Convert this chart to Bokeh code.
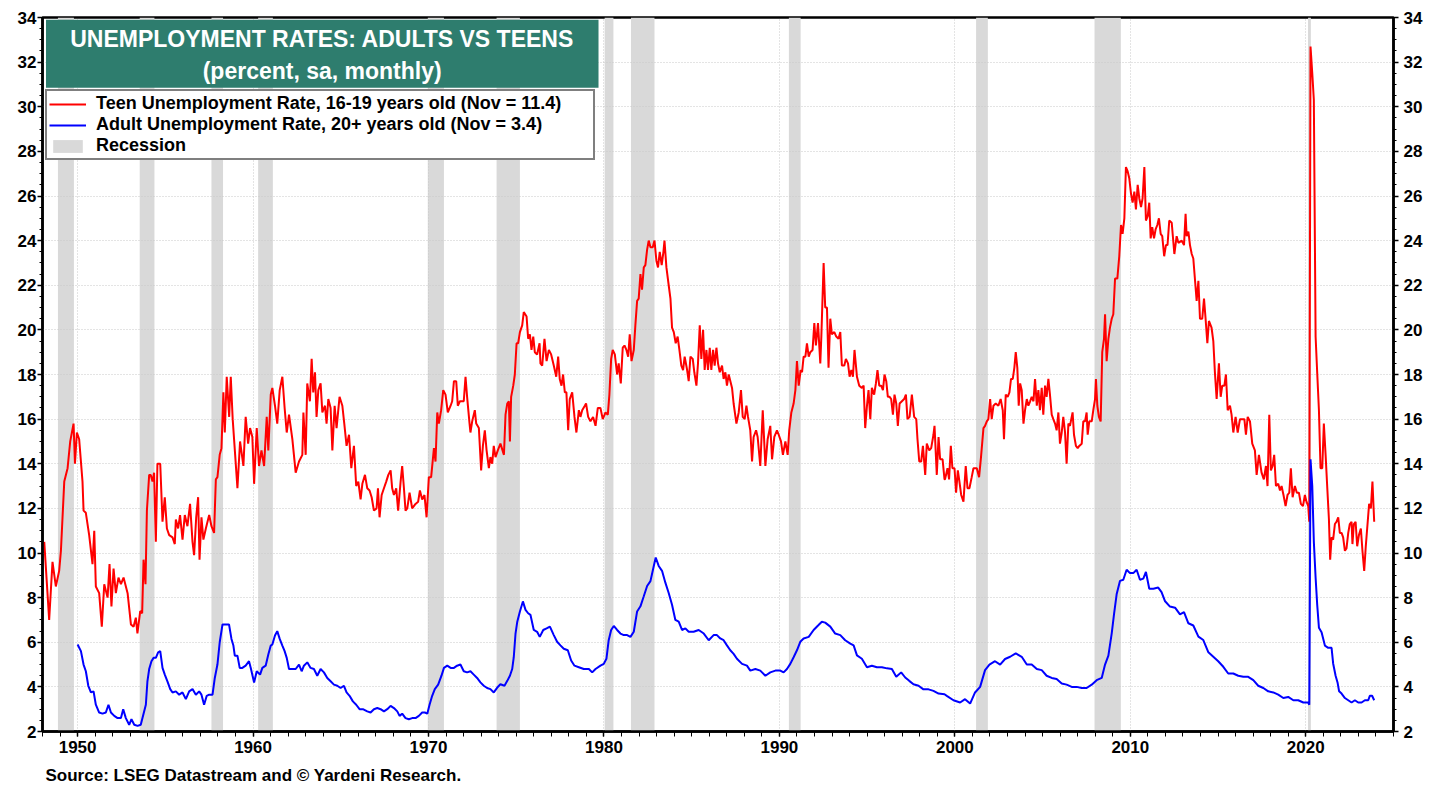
from bokeh.plotting import figure
from bokeh.models import (LinearAxis, FixedTicker, Legend, LegendItem, BoxAnnotation,
                          Label, Title, Range1d)
from bokeh.embed import file_html
from bokeh.resources import INLINE

FONT = "Liberation Sans"

# ---------------- data ----------------
title_line1 = "UNEMPLOYMENT RATES: ADULTS VS TEENS"
title_line2 = "(percent, sa, monthly)"
teen_label = "Teen Unemployment Rate, 16-19 years old (Nov = 11.4)"
adult_label = "Adult Unemployment Rate, 20+ years old (Nov = 3.4)"
source_text = "Source: LSEG Datastream and \u00a9 Yardeni Research."

year_ticks = [1950, 1960, 1970, 1980, 1990, 2000, 2010, 2020]
value_ticks = list(range(2, 35, 2))

rec_start = [1948.88, 1953.54, 1957.63, 1960.29, 1969.96, 1973.88, 1980.04, 1981.54, 1990.54, 2001.21, 2007.96, 2020.13]
rec_end = [1949.79, 1954.38, 1958.29, 1961.13, 1970.88, 1975.21, 1980.54, 1982.88, 1991.21, 2001.88, 2009.46, 2020.29]

teen_year_a = [
    1948.10, 1948.38, 1948.57, 1948.76, 1948.95, 1949.05, 1949.24, 1949.43, 1949.58, 1949.77,
    1949.85, 1949.96, 1950.09, 1950.28, 1950.34, 1950.47, 1950.66, 1950.85, 1950.95, 1951.04,
    1951.23, 1951.38, 1951.52, 1951.71, 1951.82, 1951.93, 1952.05, 1952.18, 1952.33, 1952.47,
    1952.62, 1952.85, 1953.04, 1953.19, 1953.32, 1953.41, 1953.57, 1953.68, 1953.76, 1953.87,
    1953.95, 1954.08, 1954.17, 1954.27, 1954.36, 1954.46, 1954.55, 1954.71, 1954.84, 1954.97,
    1955.09, 1955.22, 1955.41, 1955.54, 1955.60, 1955.73, 1955.84, 1955.98, 1956.11, 1956.26,
    1956.41, 1956.55, 1956.64, 1956.76, 1956.87, 1956.95, 1957.06, 1957.17, 1957.31, 1957.50,
    1957.63, 1957.78, 1957.88, 1957.97, 1958.10, 1958.20, 1958.31, 1958.39, 1958.50, 1958.64,
    1958.73, 1958.84, 1958.98, 1959.11, 1959.26, 1959.45, 1959.58, 1959.72, 1959.83, 1959.96,
    1960.06, 1960.21, 1960.34, 1960.48, 1960.63, 1960.78, 1960.87, 1961.01]
teen_rate_a = [
    10.5, 7.0, 9.6, 8.5, 9.2, 10.1, 13.2, 13.8, 15.0, 15.8,
    14.0, 15.4, 15.1, 13.2, 11.9, 11.8, 10.8, 9.5, 11.0, 8.5,
    8.2, 6.7, 8.6, 8.0, 9.5, 7.6, 9.3, 8.2, 8.9, 8.6,
    8.9, 8.2, 6.8, 6.7, 7.1, 6.4, 7.4, 7.3, 9.7, 8.6,
    11.9, 13.5, 13.5, 13.2, 13.6, 10.5, 14.0, 14.0, 11.4, 12.5,
    11.1, 10.8, 10.7, 10.4, 11.5, 11.1, 11.7, 10.6, 11.7, 11.2,
    12.2, 10.5, 9.9, 11.6, 12.5, 9.7, 11.6, 10.6, 11.1, 11.7,
    11.2, 10.9, 13.3, 13.4, 14.4, 14.7, 17.2, 15.4, 17.9, 16.1,
    17.9, 16.0, 14.4, 12.9, 15.0, 13.9, 16.1, 14.9, 15.6, 15.2,
    13.1, 15.6, 13.9, 14.6, 13.9, 16.1, 14.6, 17.1]

teen_year_b = [
    1961.10, 1961.25, 1961.38, 1961.52, 1961.67, 1961.80, 1961.92, 1962.05, 1962.24, 1962.43,
    1962.62, 1962.81, 1962.87, 1963.00, 1963.09, 1963.24, 1963.34, 1963.43, 1963.53, 1963.62,
    1963.72, 1963.85, 1963.95, 1964.10, 1964.19, 1964.29, 1964.42, 1964.52, 1964.65, 1964.76,
    1964.93, 1965.09, 1965.20, 1965.33, 1965.47, 1965.60, 1965.75, 1965.88, 1966.00, 1966.13,
    1966.23, 1966.38, 1966.51, 1966.64, 1966.76, 1966.89, 1967.04, 1967.12, 1967.21, 1967.33,
    1967.46, 1967.59, 1967.71, 1967.84, 1967.93, 1968.03, 1968.16, 1968.27, 1968.41, 1968.50,
    1968.60, 1968.69, 1968.79, 1968.92, 1969.07, 1969.26, 1969.41, 1969.51, 1969.64, 1969.77,
    1969.89, 1970.02, 1970.15, 1970.31, 1970.40, 1970.50, 1970.59, 1970.72, 1970.84, 1970.97,
    1971.10, 1971.26, 1971.35, 1971.45, 1971.58, 1971.67, 1971.79, 1972.01, 1972.11, 1972.20,
    1972.34, 1972.39, 1972.49, 1972.64, 1972.72, 1972.87, 1973.00, 1973.10, 1973.21, 1973.31,
    1973.44, 1973.53, 1973.63, 1973.72, 1973.82]
teen_rate_b = [
    17.4, 16.6, 15.8, 17.3, 17.9, 16.5, 15.4, 16.2, 15.1, 13.6,
    14.1, 14.4, 16.3, 14.4, 17.6, 16.8, 18.7, 17.2, 18.1, 16.1,
    17.3, 17.6, 16.3, 16.6, 15.8, 16.9, 16.5, 14.6, 16.6, 15.6,
    17.0, 16.6, 15.8, 14.8, 15.3, 13.8, 14.8, 13.0, 13.2, 12.4,
    13.1, 13.5, 12.9, 12.8, 12.5, 11.9, 12.0, 12.9, 11.6, 12.6,
    12.9, 13.2, 13.5, 13.7, 12.9, 12.6, 12.9, 11.9, 13.2, 13.9,
    12.9, 11.9, 12.0, 12.7, 12.0, 12.2, 12.3, 12.8, 12.4, 12.6,
    11.6, 13.4, 13.4, 14.7, 14.1, 16.3, 15.8, 16.4, 17.3, 17.1,
    16.3, 16.6, 16.8, 17.7, 17.7, 16.6, 16.8, 16.8, 17.9, 17.0,
    15.8, 15.4, 15.9, 16.4, 15.8, 15.6, 13.7, 14.8, 15.5, 14.6,
    13.8, 14.3, 14.0, 14.8, 14.3]

teen_year_c = [
    1973.95, 1974.10, 1974.30, 1974.39, 1974.49, 1974.58, 1974.64, 1974.71, 1974.83, 1974.92,
    1975.02, 1975.11, 1975.21, 1975.34, 1975.43, 1975.59, 1975.68, 1975.78, 1975.87, 1975.97,
    1976.06, 1976.19, 1976.33, 1976.38, 1976.48, 1976.61, 1976.73, 1976.86, 1976.99, 1977.14,
    1977.28, 1977.39, 1977.48, 1977.58, 1977.67, 1977.77, 1977.86, 1977.96, 1978.05, 1978.19,
    1978.32, 1978.43, 1978.57, 1978.66, 1978.76, 1978.91, 1978.98, 1979.10, 1979.23, 1979.38,
    1979.52, 1979.65, 1979.80, 1979.93, 1980.09, 1980.22, 1980.31, 1980.41, 1980.50, 1980.62,
    1980.75, 1980.84, 1980.96, 1981.07, 1981.17, 1981.28, 1981.38, 1981.47, 1981.57, 1981.70,
    1981.79, 1981.89, 1981.98, 1982.08, 1982.17, 1982.27, 1982.36, 1982.46, 1982.55, 1982.65,
    1982.78, 1982.88, 1982.99, 1983.08, 1983.18, 1983.29, 1983.39, 1983.45, 1983.56, 1983.69,
    1983.79, 1983.88, 1983.98, 1984.09, 1984.20, 1984.30, 1984.41, 1984.51, 1984.60, 1984.74,
    1984.83, 1984.93, 1985.06, 1985.15, 1985.27, 1985.36, 1985.46, 1985.55, 1985.65, 1985.74,
    1985.84, 1985.93, 1986.03, 1986.12, 1986.22, 1986.31, 1986.41, 1986.50, 1986.60]
teen_rate_c = [
    14.6, 14.9, 14.4, 16.2, 16.7, 16.8, 15.0, 17.0, 17.5, 18.0,
    19.4, 19.4, 19.9, 20.2, 20.8, 20.6, 19.6, 19.8, 19.1, 19.7,
    19.0, 18.9, 19.4, 18.5, 18.4, 19.6, 18.6, 19.1, 18.9, 18.4,
    17.9, 18.8, 17.8, 17.5, 18.0, 17.2, 17.2, 15.5, 16.9, 17.2,
    16.1, 15.4, 16.4, 16.1, 16.4, 16.6, 16.7, 16.1, 15.9, 16.1,
    15.7, 16.5, 16.5, 16.0, 16.3, 16.2, 17.1, 18.7, 19.1, 18.9,
    18.0, 18.5, 17.6, 19.2, 19.3, 19.1, 18.8, 19.8, 18.6, 19.1,
    20.2, 21.3, 21.4, 22.5, 21.8, 22.8, 22.9, 23.6, 24.0, 23.7,
    23.7, 24.0, 23.1, 22.8, 23.5, 22.9, 23.5, 24.0, 22.8, 22.0,
    21.4, 20.1, 19.9, 19.4, 19.7, 19.1, 18.4, 18.2, 18.8, 18.2,
    17.7, 18.8, 18.7, 18.1, 17.5, 18.5, 20.2, 18.7, 20.0, 18.2,
    19.1, 18.2, 19.2, 18.2, 19.1, 18.4, 19.2, 18.5, 18.1]

teen_year_d = [
    1986.73, 1986.82, 1986.92, 1987.01, 1987.11, 1987.30, 1987.39, 1987.55, 1987.68, 1987.81,
    1987.91, 1988.02, 1988.12, 1988.21, 1988.34, 1988.44, 1988.53, 1988.67, 1988.76, 1988.91,
    1989.05, 1989.20, 1989.33, 1989.48, 1989.58, 1989.71, 1989.86, 1989.96, 1990.09, 1990.20,
    1990.34, 1990.47, 1990.56, 1990.68, 1990.81, 1990.91, 1991.00, 1991.10, 1991.21, 1991.29,
    1991.38, 1991.48, 1991.57, 1991.67, 1991.76, 1991.89, 1991.99, 1992.08, 1992.20, 1992.33,
    1992.39, 1992.52, 1992.61, 1992.71, 1992.80, 1992.90, 1992.99, 1993.13, 1993.24, 1993.37,
    1993.47, 1993.56, 1993.70, 1993.79, 1993.91, 1994.00, 1994.10, 1994.19, 1994.28, 1994.42,
    1994.55, 1994.70, 1994.80, 1994.89, 1994.99, 1995.08, 1995.18, 1995.27, 1995.40, 1995.50,
    1995.59, 1995.69, 1995.80, 1995.90, 1995.99, 1996.09, 1996.18, 1996.28, 1996.37, 1996.47,
    1996.56, 1996.66, 1996.75, 1996.85, 1996.98, 1997.11, 1997.21, 1997.30, 1997.42, 1997.55,
    1997.68, 1997.80, 1997.87, 1997.97, 1998.08, 1998.18, 1998.31, 1998.40, 1998.54, 1998.65,
    1998.78, 1998.84, 1998.97, 1999.07, 1999.16, 1999.30, 1999.41]
teen_rate_d = [
    18.4, 17.8, 18.1, 17.5, 18.0, 17.4, 16.7, 15.8, 16.3, 17.3,
    16.1, 16.0, 16.6, 16.1, 15.5, 14.1, 15.2, 15.5, 15.2, 13.9,
    16.4, 13.9, 15.1, 15.7, 14.2, 15.2, 15.5, 15.3, 15.0, 14.4,
    15.0, 14.4, 15.5, 16.3, 16.7, 17.3, 18.6, 17.5, 18.2, 18.1,
    18.8, 18.8, 19.4, 18.8, 19.0, 19.1, 20.3, 19.3, 20.3, 18.5,
    19.7, 23.0, 21.0, 21.0, 18.3, 20.5, 19.8, 19.9, 19.7, 19.6,
    19.9, 18.4, 18.4, 18.7, 18.5, 17.9, 18.2, 17.9, 19.1, 17.9,
    17.5, 17.4, 17.5, 15.6, 16.6, 17.3, 16.0, 17.4, 17.1, 17.6,
    18.2, 17.5, 17.5, 17.3, 18.0, 17.7, 17.0, 17.0, 16.9, 16.2,
    17.1, 16.7, 15.7, 16.7, 16.8, 16.9, 17.1, 16.0, 16.1, 17.1,
    16.1, 16.0, 15.1, 14.1, 14.1, 14.8, 13.5, 14.9, 14.6, 14.7,
    15.3, 15.7, 13.5, 15.2, 14.2, 14.2, 13.3]

teen_year_e = [
    1999.44, 1999.58, 1999.67, 1999.77, 1999.86, 1999.98, 2000.07, 2000.17, 2000.26, 2000.36,
    2000.49, 2000.62, 2000.72, 2000.83, 2000.96, 2001.06, 2001.25, 2001.38, 2001.49, 2001.63,
    2001.72, 2001.82, 2001.91, 2002.01, 2002.10, 2002.20, 2002.33, 2002.48, 2002.61, 2002.73,
    2002.80, 2002.90, 2003.01, 2003.11, 2003.20, 2003.30, 2003.39, 2003.47, 2003.56, 2003.64,
    2003.72, 2003.81, 2003.91, 2004.00, 2004.10, 2004.19, 2004.29, 2004.38, 2004.48, 2004.57,
    2004.67, 2004.76, 2004.85, 2004.95, 2005.04, 2005.14, 2005.23, 2005.33, 2005.42, 2005.52,
    2005.61, 2005.71, 2005.80, 2005.90, 2005.99, 2006.09, 2006.18, 2006.28, 2006.37, 2006.47,
    2006.56, 2006.71, 2006.79, 2006.90, 2007.00, 2007.09, 2007.23, 2007.32, 2007.42, 2007.51,
    2007.57, 2007.66, 2007.80, 2007.89, 2007.99, 2008.04, 2008.12, 2008.21, 2008.31, 2008.40,
    2008.50, 2008.56, 2008.65, 2008.75, 2008.84, 2008.94, 2009.03, 2009.13, 2009.26, 2009.37,
    2009.47, 2009.56, 2009.66, 2009.75, 2009.85, 2009.94, 2010.04, 2010.13, 2010.23, 2010.32,
    2010.42, 2010.51, 2010.61, 2010.70, 2010.80, 2010.89, 2010.99, 2011.08, 2011.16, 2011.25,
    2011.35, 2011.44, 2011.54, 2011.63, 2011.73, 2011.82, 2011.93, 2012.03, 2012.12, 2012.22]
teen_rate_e = [
    13.3, 13.8, 13.3, 14.8, 13.8, 13.8, 12.7, 13.7, 13.2, 12.6,
    12.3, 13.9, 12.9, 12.9, 13.4, 13.8, 13.8, 13.4, 14.3, 15.6,
    15.7, 15.9, 16.0, 16.9, 16.0, 16.6, 16.7, 16.6, 16.9, 16.4,
    15.1, 17.1, 17.0, 17.2, 17.8, 17.8, 18.3, 19.0, 18.3, 16.6,
    17.6, 17.3, 15.8, 16.4, 16.9, 16.6, 16.8, 17.0, 16.8, 17.8,
    16.6, 17.3, 16.4, 17.4, 16.2, 17.5, 17.0, 17.8, 17.1, 16.2,
    16.0, 15.8, 15.5, 16.3, 14.9, 15.4, 16.1, 15.4, 14.0, 15.8,
    15.7, 16.3, 15.3, 14.8, 14.7, 14.8, 14.9, 15.9, 15.9, 16.3,
    15.3, 15.9, 15.9, 16.4, 16.9, 17.8, 16.6, 16.1, 15.9, 19.0,
    19.6, 20.7, 18.6, 19.6, 20.1, 20.5, 20.7, 22.3, 22.3, 23.3,
    24.7, 24.3, 25.0, 27.3, 27.1, 26.8, 26.1, 25.7, 26.2, 25.4,
    26.5, 25.9, 25.5, 25.9, 27.3, 24.9, 25.1, 25.7, 24.1, 24.6,
    24.1, 24.5, 24.7, 25.0, 24.3, 24.2, 23.3, 23.8, 23.8, 24.9]

teen_year_f = [
    2012.36, 2012.51, 2012.64, 2012.74, 2012.93, 2013.06, 2013.15, 2013.21, 2013.31, 2013.40,
    2013.50, 2013.59, 2013.69, 2013.78, 2013.88, 2013.97, 2014.10, 2014.20, 2014.29, 2014.39,
    2014.48, 2014.63, 2014.73, 2014.82, 2014.92, 2015.05, 2015.15, 2015.24, 2015.36, 2015.45,
    2015.55, 2015.68, 2015.77, 2015.87, 2016.00, 2016.12, 2016.25, 2016.38, 2016.50, 2016.59,
    2016.69, 2016.82, 2016.95, 2017.10, 2017.20, 2017.33, 2017.48, 2017.61, 2017.73, 2017.82,
    2017.92, 2018.01, 2018.11, 2018.20, 2018.30, 2018.43, 2018.53, 2018.62, 2018.73, 2018.85,
    2018.96, 2019.06, 2019.15, 2019.25, 2019.38, 2019.49, 2019.61, 2019.72, 2019.84, 2019.95,
    2020.04, 2020.14, 2020.20, 2020.27, 2020.37, 2020.46, 2020.56, 2020.65, 2020.75, 2020.84,
    2020.94, 2021.03, 2021.13, 2021.22, 2021.32, 2021.39, 2021.47, 2021.56, 2021.66, 2021.75,
    2021.85, 2021.94, 2022.04, 2022.13, 2022.23, 2022.32, 2022.42, 2022.51, 2022.61, 2022.66,
    2022.74, 2022.84, 2022.93, 2023.03, 2023.14, 2023.23, 2023.33, 2023.42, 2023.52, 2023.61,
    2023.71, 2023.80, 2023.90]
teen_rate_f = [
    24.8, 23.4, 24.2, 23.9, 24.0, 23.8, 25.2, 24.2, 24.4, 23.8,
    23.4, 23.2, 22.2, 21.3, 22.2, 20.5, 20.5, 21.4, 20.5, 19.4,
    20.4, 20.1, 19.5, 18.1, 16.9, 18.5, 17.0, 17.5, 17.5, 18.0,
    16.4, 16.6, 16.2, 15.4, 16.1, 15.4, 16.0, 16.0, 16.0, 15.3,
    16.1, 15.9, 14.9, 14.6, 13.5, 14.4, 13.6, 13.3, 13.9, 13.0,
    16.2, 13.7, 13.9, 14.4, 13.0, 13.1, 12.8, 13.0, 12.6, 12.1,
    12.6, 12.7, 13.8, 12.5, 13.0, 12.7, 12.7, 12.2, 12.1, 12.6,
    12.3, 12.1, 11.4, 32.7, 31.5, 30.3, 19.7, 18.1, 16.4, 13.8,
    13.8, 15.8, 14.4, 13.0, 11.5, 9.7, 10.7, 10.6, 11.3, 11.4,
    11.6, 10.9, 10.9, 10.7, 10.1, 10.2, 10.9, 11.3, 11.4, 10.4,
    11.3, 11.4, 10.3, 10.8, 11.1, 10.1, 9.2, 10.3, 11.3, 12.2,
    12.0, 13.2, 11.4]

adult_year_a = [
    1950.00, 1950.19, 1950.34, 1950.47, 1950.61, 1950.76, 1950.91, 1951.04, 1951.23, 1951.42,
    1951.61, 1951.76, 1951.90, 1952.09, 1952.28, 1952.47, 1952.60, 1952.75, 1952.94, 1953.07,
    1953.23, 1953.42, 1953.60, 1953.76, 1953.89, 1953.98, 1954.08, 1954.21, 1954.33, 1954.46,
    1954.59, 1954.71, 1954.84, 1954.97, 1955.12, 1955.28, 1955.41, 1955.60, 1955.79, 1955.98,
    1956.17, 1956.36, 1956.55, 1956.74, 1956.93, 1957.06, 1957.21, 1957.36, 1957.50, 1957.69,
    1957.82, 1957.97, 1958.10, 1958.26, 1958.45, 1958.63, 1958.77, 1958.88, 1958.96, 1959.11,
    1959.24, 1959.39, 1959.58, 1959.77, 1959.87, 1960.06, 1960.21, 1960.40, 1960.53, 1960.72,
    1960.87, 1961.01]
adult_rate_a = [
    5.9, 5.6, 5.0, 4.7, 4.05, 3.75, 3.8, 3.2, 2.85, 2.8,
    2.85, 3.2, 2.85, 2.7, 2.6, 2.6, 3.0, 2.6, 2.3, 2.55,
    2.3, 2.25, 2.3, 2.8, 3.2, 4.25, 4.8, 5.15, 5.3, 5.3,
    5.55, 5.6, 4.85, 4.55, 4.25, 3.9, 3.75, 3.8, 3.65, 3.75,
    3.45, 3.8, 3.9, 3.65, 3.8, 3.65, 3.2, 3.6, 3.65, 3.65,
    4.4, 5.0, 6.0, 6.8, 6.8, 6.8, 6.15, 5.85, 5.4, 5.4,
    4.85, 4.85, 4.95, 5.15, 4.85, 4.2, 4.7, 4.55, 4.85, 4.95,
    5.45, 5.85]

adult_year_b = [
    1961.10, 1961.25, 1961.38, 1961.52, 1961.67, 1961.80, 1961.92, 1962.05, 1962.24, 1962.43,
    1962.62, 1962.77, 1962.90, 1963.09, 1963.28, 1963.47, 1963.66, 1963.85, 1964.04, 1964.23,
    1964.42, 1964.61, 1964.80, 1964.99, 1965.18, 1965.33, 1965.50, 1965.69, 1965.88, 1966.07,
    1966.26, 1966.51, 1966.70, 1966.89, 1967.08, 1967.27, 1967.46, 1967.65, 1967.84, 1968.03,
    1968.22, 1968.35, 1968.50, 1968.69, 1968.88, 1969.07, 1969.26, 1969.45, 1969.64, 1969.79,
    1969.93, 1970.06, 1970.21, 1970.36, 1970.55, 1970.74, 1970.88, 1971.07, 1971.26, 1971.45,
    1971.63, 1971.82, 1972.01, 1972.20, 1972.39, 1972.58, 1972.77, 1972.96, 1973.15, 1973.34,
    1973.53, 1973.72]
adult_rate_b = [
    5.9, 6.3, 6.5, 6.15, 5.85, 5.6, 5.3, 4.8, 4.8, 4.8,
    5.0, 4.7, 4.95, 5.1, 4.85, 4.8, 4.5, 4.8, 4.65, 4.4,
    4.25, 4.1, 4.05, 3.95, 4.05, 3.75, 3.6, 3.35, 3.2, 3.0,
    3.0, 2.9, 2.85, 3.0, 3.05, 3.0, 2.9, 3.0, 3.15, 3.05,
    2.9, 2.7, 2.8, 2.6, 2.55, 2.6, 2.6, 2.7, 2.85, 2.85,
    2.8, 3.2, 3.6, 3.9, 4.1, 4.5, 4.85, 4.95, 4.85, 4.85,
    4.95, 5.0, 4.7, 4.65, 4.7, 4.55, 4.4, 4.2, 4.05, 3.95,
    3.9, 3.75]

adult_year_c = [
    1973.92, 1974.10, 1974.33, 1974.49, 1974.64, 1974.77, 1974.86, 1974.96, 1975.06, 1975.21,
    1975.38, 1975.53, 1975.68, 1975.81, 1976.00, 1976.19, 1976.34, 1976.54, 1976.73, 1976.92,
    1977.14, 1977.33, 1977.52, 1977.71, 1977.94, 1978.13, 1978.32, 1978.57, 1978.85, 1979.14,
    1979.33, 1979.52, 1979.80, 1979.99, 1980.14, 1980.27, 1980.41, 1980.56, 1980.75, 1980.94,
    1981.13, 1981.32, 1981.51, 1981.70, 1981.89, 1982.08, 1982.27, 1982.46, 1982.65, 1982.84,
    1982.95, 1983.12, 1983.31, 1983.50, 1983.69, 1983.88, 1984.07, 1984.26, 1984.45, 1984.64,
    1984.83, 1985.11, 1985.40, 1985.69, 1985.97, 1986.25, 1986.44, 1986.63]
adult_rate_c = [
    3.97, 4.12, 4.05, 4.27, 4.5, 4.8, 5.33, 6.39, 6.92, 7.38,
    7.83, 7.45, 7.3, 7.23, 6.55, 6.47, 6.24, 6.55, 6.62, 6.7,
    6.32, 6.02, 5.86, 5.71, 5.64, 5.18, 4.95, 4.88, 4.8, 4.8,
    4.65, 4.8, 4.95, 5.03, 5.26, 6.09, 6.55, 6.73, 6.55, 6.39,
    6.32, 6.32, 6.24, 6.47, 7.38, 7.61, 8.06, 8.52, 8.74, 9.42,
    9.8, 9.42, 9.2, 8.67, 8.21, 7.68, 7.0, 6.92, 6.55, 6.62,
    6.47, 6.47, 6.55, 6.39, 6.09, 6.32, 6.32, 6.17]

adult_year_d = [
    1986.82, 1987.01, 1987.20, 1987.39, 1987.58, 1987.87, 1988.15, 1988.34, 1988.63, 1988.91,
    1989.20, 1989.48, 1989.77, 1990.05, 1990.24, 1990.43, 1990.62, 1990.81, 1991.00, 1991.19,
    1991.38, 1991.67, 1991.95, 1992.23, 1992.42, 1992.61, 1992.90, 1993.18, 1993.47, 1993.75,
    1994.04, 1994.23, 1994.42, 1994.70, 1994.99, 1995.27, 1995.56, 1995.84, 1996.13, 1996.41,
    1996.66, 1996.94, 1997.17, 1997.40, 1997.64, 1997.93, 1998.21, 1998.50, 1998.78, 1999.07,
    1999.41]
adult_rate_d = [
    6.09, 5.86, 5.64, 5.48, 5.26, 5.03, 4.95, 4.73, 4.8, 4.73,
    4.5, 4.65, 4.73, 4.73, 4.65, 4.8, 5.03, 5.33, 5.64, 6.02,
    6.17, 6.24, 6.55, 6.77, 6.92, 6.88, 6.7, 6.39, 6.32, 6.09,
    5.94, 5.86, 5.41, 5.26, 4.88, 4.95, 4.88, 4.88, 4.83, 4.8,
    4.45, 4.65, 4.42, 4.27, 4.12, 4.05, 3.89, 3.89, 3.82, 3.7,
    3.67]

adult_year_e = [
    1999.54, 1999.92, 2000.30, 2000.58, 2000.87, 2001.15, 2001.44, 2001.72, 2001.97, 2002.29,
    2002.58, 2002.86, 2003.15, 2003.47, 2003.81, 2004.10, 2004.38, 2004.67, 2004.95, 2005.23,
    2005.52, 2005.80, 2006.09, 2006.37, 2006.66, 2006.94, 2007.23, 2007.51, 2007.80, 2008.08,
    2008.37, 2008.56, 2008.75, 2008.94, 2009.07, 2009.22, 2009.41, 2009.60, 2009.79, 2009.98,
    2010.17, 2010.36, 2010.55, 2010.74, 2010.89, 2011.08, 2011.31, 2011.59, 2011.78, 2011.97,
    2012.26]
adult_rate_e = [
    3.6, 3.4, 3.3, 3.45, 3.25, 3.75, 4.0, 4.75, 5.0, 5.15,
    5.0, 5.25, 5.35, 5.5, 5.35, 5.0, 5.0, 4.8, 4.75, 4.5,
    4.4, 4.35, 4.15, 4.1, 4.0, 4.0, 3.95, 3.95, 4.1, 4.3,
    4.4, 5.0, 5.4, 6.4, 7.25, 8.15, 8.75, 8.8, 9.25, 9.1,
    9.1, 9.25, 8.8, 8.85, 9.15, 8.4, 8.4, 8.45, 8.25, 7.85,
    7.6]

adult_year_f = [
    2012.55, 2012.83, 2013.06, 2013.31, 2013.59, 2013.88, 2014.16, 2014.45, 2014.73, 2015.01,
    2015.30, 2015.58, 2015.87, 2016.15, 2016.44, 2016.72, 2017.01, 2017.29, 2017.58, 2017.86,
    2018.15, 2018.43, 2018.72, 2019.00, 2019.29, 2019.57, 2019.86, 2020.14, 2020.20, 2020.27,
    2020.37, 2020.46, 2020.56, 2020.65, 2020.75, 2020.90, 2021.09, 2021.28, 2021.47, 2021.56,
    2021.70, 2021.81, 2021.90, 2022.04, 2022.23, 2022.42, 2022.61, 2022.80, 2022.99, 2023.18,
    2023.37, 2023.56, 2023.65, 2023.78, 2023.90]
adult_rate_f = [
    7.55, 7.25, 7.35, 6.85, 6.75, 6.25, 6.1, 5.55, 5.35, 5.15,
    4.9, 4.6, 4.6, 4.5, 4.45, 4.45, 4.3, 4.05, 3.95, 3.8,
    3.75, 3.65, 3.5, 3.55, 3.4, 3.4, 3.3, 3.3, 3.2, 14.2,
    13.0, 10.5, 8.9, 7.7, 6.65, 6.45, 5.85, 5.75, 5.75, 5.05,
    4.5, 4.2, 3.8, 3.7, 3.5, 3.4, 3.3, 3.4, 3.3, 3.3,
    3.4, 3.4, 3.6, 3.6, 3.4]

teen_year = teen_year_a + teen_year_b + teen_year_c + teen_year_d + teen_year_e + teen_year_f
teen_rate = teen_rate_a + teen_rate_b + teen_rate_c + teen_rate_d + teen_rate_e + teen_rate_f
adult_year = adult_year_a + adult_year_b + adult_year_c + adult_year_d + adult_year_e + adult_year_f
adult_rate = adult_rate_a + adult_rate_b + adult_rate_c + adult_rate_d + adult_rate_e + adult_rate_f
assert len(teen_year) == len(teen_rate), (len(teen_year), len(teen_rate))
assert len(adult_year) == len(adult_rate), (len(adult_year), len(adult_rate))

# ---------------- figure ----------------
X0, X1, Y0, Y1 = 1948, 2025, 2, 34
p = figure(width=1438, height=792, x_range=Range1d(X0, X1), y_range=Range1d(Y0, Y1),
           output_backend="svg", toolbar_location=None,
           min_border_left=42, min_border_right=45, min_border_top=17, min_border_bottom=61)
p.background_fill_color = "white"
p.border_fill_color = "white"
p.outline_line_color = "black"
p.outline_line_width = 2.5

yt = FixedTicker(ticks=value_ticks, minor_ticks=[Y0 + 0.5 * i for i in range(int((Y1 - Y0) * 2) + 1)])
xt = FixedTicker(ticks=year_ticks, minor_ticks=list(range(X0, X1 + 1)))

def style_axis(ax):
    ax.axis_line_color = "black"
    ax.axis_line_width = 2.5
    ax.major_tick_line_color = "black"
    ax.minor_tick_line_color = "black"
    ax.major_tick_line_width = 1.5
    ax.minor_tick_line_width = 1
    ax.major_tick_in = 0
    ax.minor_tick_in = 0
    ax.major_label_text_font = FONT
    ax.major_label_text_font_style = "bold"
    ax.major_label_text_font_size = "17px"
    ax.major_label_text_color = "black"

p.yaxis.ticker = yt
style_axis(p.yaxis[0])
p.yaxis.major_tick_out = 5
p.yaxis.minor_tick_out = 3
p.yaxis.major_label_standoff = 1

raxis = LinearAxis(ticker=yt)
style_axis(raxis)
raxis.major_tick_out = 5
raxis.minor_tick_out = 3
raxis.major_label_standoff = 5
p.add_layout(raxis, "right")

p.xaxis.ticker = xt
style_axis(p.xaxis[0])
p.xaxis.major_tick_out = 5
p.xaxis.minor_tick_out = 5
p.xaxis.major_label_standoff = 4

p.ygrid.ticker = yt
p.xgrid.ticker = FixedTicker(ticks=year_ticks)
for g in (p.xgrid[0], p.ygrid[0]):
    g.grid_line_color = "#C8C8C8"
    g.grid_line_width = 1
    g.grid_line_dash = "1 2"

r_rec = p.quad(left=rec_start, right=rec_end, bottom=Y0, top=Y1,
               fill_color="#D9D9D9", line_color=None, level="underlay")
r_teen = p.line(teen_year, teen_rate, line_color="#FF0000", line_width=2)
r_adult = p.line(adult_year, adult_rate, line_color="#0000FF", line_width=2)

# title box
p.add_layout(BoxAnnotation(left=1948.2, right=1979.69, top=33.9, bottom=30.85,
                           fill_color="#2E7D6E", fill_alpha=1.0, line_color=None))
p.add_layout(Label(x=1963.94, y=33.02, text=title_line1, text_align="center", text_baseline="middle",
                   text_color="white", text_font=FONT, text_font_style="bold", text_font_size="23px"))
p.add_layout(Label(x=1963.94, y=31.6, text=title_line2, text_align="center", text_baseline="middle",
                   text_color="white", text_font=FONT, text_font_style="bold", text_font_size="23px"))

legend = Legend(items=[LegendItem(label=teen_label, renderers=[r_teen]),
                       LegendItem(label=adult_label, renderers=[r_adult]),
                       LegendItem(label="Recession", renderers=[r_rec])],
                location=(3, 571))
legend.border_line_color = "black"
legend.border_line_width = 2
legend.background_fill_color = "white"
legend.background_fill_alpha = 1.0
legend.label_text_font = FONT
legend.label_text_font_style = "bold"
legend.label_text_font_size = "18px"
legend.label_text_line_height = 1.0
legend.label_text_color = "black"
legend.glyph_width = 37
legend.glyph_height = 16
legend.label_height = 20
legend.label_width = 495
legend.label_standoff = 10
legend.spacing = 0
legend.padding = 2
legend.margin = 0
p.add_layout(legend)

src = Title(text=source_text, align="left", text_font=FONT, text_font_style="bold",
            text_font_size="17px", text_color="black", offset=3, standoff=16)
p.add_layout(src, "below")

open("out.html", "w").write(file_html(p, INLINE))
